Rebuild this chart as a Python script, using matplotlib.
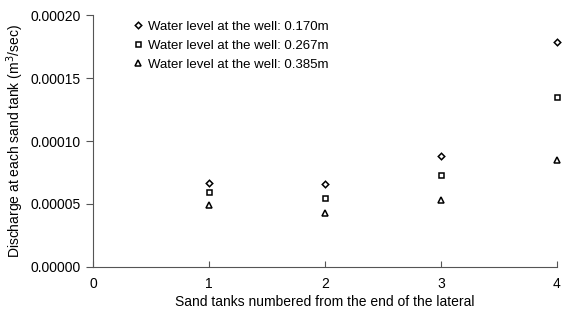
import matplotlib.pyplot as plt
from matplotlib.ticker import FormatStrFormatter

tanks = [1, 2, 3, 4]
q_170 = [0.0000667, 0.0000659, 0.0000881, 0.000179]
q_267 = [0.0000595, 0.0000548, 0.0000730, 0.000135]
q_385 = [0.0000492, 0.0000429, 0.0000532, 0.0000849]
labels = ["Water level at the well: 0.170m",
          "Water level at the well: 0.267m",
          "Water level at the well: 0.385m"]

plt.rcParams['font.family'] = ['Liberation Sans', 'DejaVu Sans']

fig = plt.figure(figsize=(5.71, 3.22), dpi=100)
ax = fig.add_axes([0.163, 0.171, 0.812, 0.782])

style = dict(linestyle='none', color='black', markerfacecolor='white',
             markeredgewidth=1.1, clip_on=False)
ax.plot(tanks, q_170, marker='D', markersize=3.3, label=labels[0], **style)
ax.plot(tanks, q_267, marker='s', markersize=3.6, label=labels[1], **style)
ax.plot(tanks, q_385, marker='^', markersize=4.0, label=labels[2], **style)

ax.set_xlim(0, 4)
ax.set_ylim(0, 0.0002)
ax.set_xticks([0, 1, 2, 3, 4])
ax.set_yticks([0, 0.00005, 0.0001, 0.00015, 0.0002])
ax.yaxis.set_major_formatter(FormatStrFormatter('%.5f'))

for s in ['top', 'right']:
    ax.spines[s].set_visible(False)
for s in ['left', 'bottom']:
    ax.spines[s].set_color('#555555')
    ax.spines[s].set_linewidth(0.8)

ax.tick_params(axis='x', direction='in', length=4, width=0.8, color='#555555',
               labelsize=10, pad=7)
ax.tick_params(axis='y', direction='out', length=5, width=0.8, color='#555555',
               labelsize=10, pad=4)

ax.set_xlabel('Sand tanks numbered from the end of the lateral', fontsize=10,
              labelpad=3)
ax.set_ylabel('Discharge at each sand tank (m$^3$/sec)', fontsize=10, labelpad=3)

ax.legend(loc='upper left', frameon=False, fontsize=9.5, handlelength=0.6,
          handletextpad=0.5, labelspacing=0.52, borderpad=0,
          bbox_to_anchor=(0.074, 1.005))

fig.savefig('out.png', dpi=100)
